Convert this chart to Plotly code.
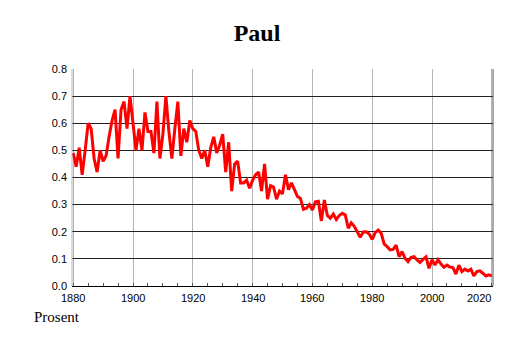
import plotly.graph_objects as go

title_text = "Paul"
y_label = "Prosent"
start_year = 1880
values = [
    0.49, 0.44, 0.51, 0.41, 0.50, 0.60, 0.58, 0.47, 0.42, 0.50,
    0.46, 0.48, 0.55, 0.61, 0.65, 0.47, 0.65, 0.68, 0.58, 0.70,
    0.60, 0.50, 0.58, 0.50, 0.64, 0.57, 0.57, 0.49, 0.68, 0.47,
    0.56, 0.70, 0.57, 0.47, 0.58, 0.68, 0.48, 0.58, 0.53, 0.61,
    0.58, 0.57, 0.50, 0.47, 0.50, 0.44, 0.51, 0.55, 0.49, 0.52,
    0.56, 0.42, 0.53, 0.35, 0.45, 0.46, 0.38, 0.38, 0.39, 0.36,
    0.39, 0.41, 0.42, 0.35, 0.45, 0.32, 0.37, 0.365, 0.32, 0.35,
    0.34, 0.41, 0.355, 0.38, 0.355, 0.33, 0.323, 0.283, 0.287, 0.30,
    0.28, 0.31, 0.312, 0.24, 0.317, 0.26, 0.25, 0.265, 0.245, 0.26,
    0.268, 0.262, 0.213, 0.233, 0.22, 0.197, 0.18, 0.199, 0.20, 0.192,
    0.172, 0.197, 0.206, 0.195, 0.155, 0.145, 0.133, 0.135, 0.151, 0.108,
    0.127, 0.102, 0.09, 0.106, 0.108, 0.096, 0.087, 0.098, 0.107, 0.065,
    0.097, 0.077, 0.097, 0.081, 0.069, 0.077, 0.07, 0.068, 0.044, 0.077,
    0.053, 0.062, 0.055, 0.062, 0.037, 0.053, 0.056, 0.047, 0.037, 0.041,
    0.037,
]
years = [start_year + i for i in range(len(values))]
x_ticks = [1880, 1900, 1920, 1940, 1960, 1980, 2000, 2020]
y_ticks = [0.0, 0.1, 0.2, 0.3, 0.4, 0.5, 0.6, 0.7, 0.8]

x_range = [1879.6, 2020.4]

# page body has an 8px default margin; figure sized to fit the window
W, H = 506, 335

fig = go.Figure()
fig.add_trace(go.Scatter(
    x=years, y=values, mode="lines",
    line=dict(color="#ff0000", width=3),
    hoverinfo="skip", showlegend=False,
))

fig.update_layout(
    width=W, height=H,
    margin=dict(l=64, r=21, t=61, b=57),
    paper_bgcolor="white", plot_bgcolor="white",
    title=dict(text=f"<b>{title_text}</b>", x=(257 - 8) / W, xanchor="center",
               y=1 - 25 / H, yanchor="middle",
               font=dict(family="Liberation Serif", size=24, color="black")),
    font=dict(family="Liberation Sans", size=11, color="black"),
    showlegend=False,
)

fig.update_xaxes(
    range=x_range, tickvals=x_ticks, showticklabels=False,
    showgrid=True, gridcolor="#b4b4b4", gridwidth=1,
    zeroline=False, showline=True, linecolor="black", linewidth=1,
    ticks="", mirror=False,
    minor=dict(dtick=5, tick0=1880, ticks="inside", ticklen=3,
               tickcolor="#555555", showgrid=False),
)
fig.update_yaxes(
    range=[0, 0.8], tickvals=y_ticks, tickformat=".1f",
    showgrid=True, gridcolor="#222222", gridwidth=1,
    zeroline=False, showline=False, ticks="", ticklabelstandoff=4,
    tickfont=dict(family="Liberation Sans", size=11, color="black"),
)

# side borders
fig.add_shape(type="line", xref="paper", yref="paper", x0=0, x1=0, y0=0, y1=1,
              line=dict(color="#b4b4b4", width=1))
fig.add_shape(type="line", xref="paper", yref="paper", x0=1, x1=1, y0=0, y1=1,
              line=dict(color="#555555", width=1))

# x tick labels
for t in x_ticks:
    last = t == x_ticks[-1]
    fig.add_annotation(
        x=x_range[1] if last else t, xref="x", y=0, yref="paper",
        text=str(t), showarrow=False,
        xanchor="right" if last else "center", yanchor="top", yshift=-4,
        font=dict(family="Liberation Sans", size=11, color="black"),
    )

fig.add_annotation(
    x=-40 / 421, xref="paper", y=-31 / 217, yref="paper",
    text=y_label, showarrow=False, xanchor="left", yanchor="middle",
    font=dict(family="Liberation Serif", size=15, color="black"),
)

fig.write_html("out.html")
